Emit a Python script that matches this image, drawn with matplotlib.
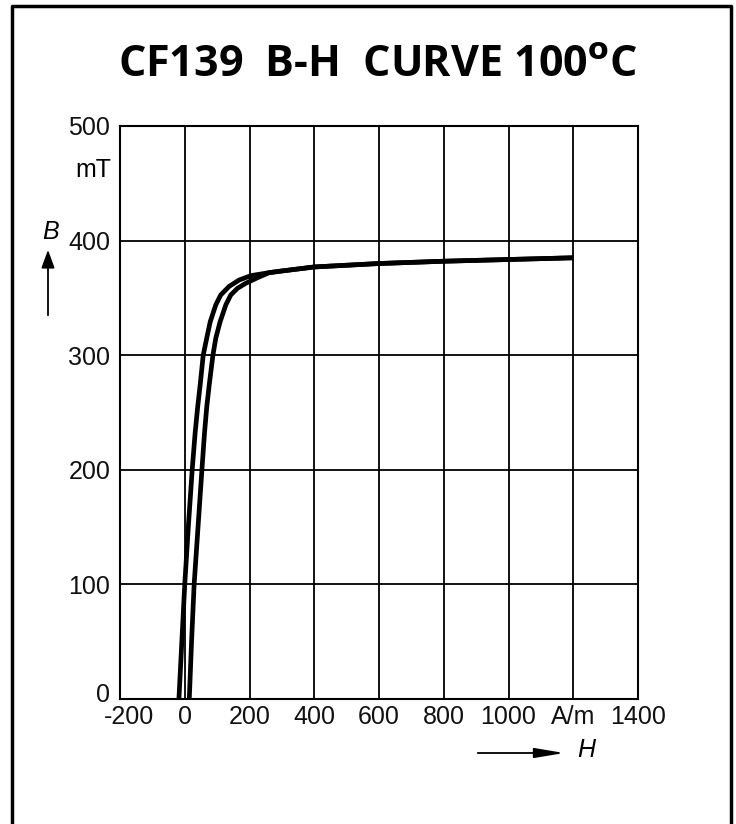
import matplotlib.pyplot as plt
from matplotlib.patches import FancyArrowPatch
from matplotlib.transforms import ScaledTranslation

# B-H data (H in A/m, B in mT)
# descending branch (left curve)
H_desc = [-18, -9, 0, 11, 23, 32, 40, 48, 57, 68, 78.5, 96, 111, 137, 168, 204, 260, 300, 400, 600, 800, 1000, 1200]
B_desc = [0, 50, 100, 150, 200, 232, 255, 275, 300, 315, 329, 344, 352.5, 360, 365.6, 369.4, 372, 373.5, 377, 380, 382, 383.5, 385]
# ascending branch (right curve)
H_asc = [14, 21, 29, 41, 53, 61, 68, 76, 87, 96, 109, 127, 142, 163, 188, 224, 260, 300, 400, 600, 800, 1000, 1200]
B_asc = [0, 50, 100, 150, 200, 232, 255, 275, 300, 315, 329, 344, 352.5, 358.4, 362.7, 367.5, 372, 373.5, 377, 380, 382, 383.5, 385]

x_ticks = [-200, 0, 200, 400, 600, 800, 1000, 1200, 1400]
x_labels = ['-200', '0', '200', '400', '600', '800', '1000', 'A/m', '1400']
y_ticks = [0, 100, 200, 300, 400, 500]

plt.rcParams['font.family'] = ['Liberation Sans', 'DejaVu Sans']

fig = plt.figure(figsize=(7.36, 8.24), dpi=100)
ax = fig.add_axes([120/736, 1-699/824, (638-120)/736, (699-126)/824])

ax.plot(H_desc, B_desc, color='black', lw=3.4, solid_capstyle='butt')
ax.plot(H_asc, B_asc, color='black', lw=3.4, solid_capstyle='butt')

ax.set_xlim(-200, 1400)
ax.set_ylim(0, 500)
ax.set_xticks(x_ticks)
ax.set_xticklabels(x_labels)
ax.set_yticks(y_ticks)
ax.grid(True, color='black', lw=1.3)
ax.set_axisbelow(True)
ax.tick_params(length=0, labelsize=18, colors='#111111')
ax.tick_params(axis='y', pad=7)
ax.tick_params(axis='x', pad=4)
for s in ax.spines.values():
    s.set_linewidth(1.5)

# in the original the "-200" sits a bit right and the "0" of B a bit up
ax.get_xticklabels()[0].set_transform(ax.get_xticklabels()[0].get_transform()
                                      + ScaledTranslation(9/100, 0, fig.dpi_scale_trans))
ax.get_yticklabels()[0].set_transform(ax.get_yticklabels()[0].get_transform()
                                      + ScaledTranslation(0, 6/100, fig.dpi_scale_trans))

# unit and axis symbols with arrows
fig.text(111/736, 1-170/824, 'mT', ha='right', va='center', fontsize=18)
fig.text(51/736, 1-232/824, 'B', ha='center', va='center', fontsize=18, style='italic')
fig.patches.append(FancyArrowPatch(
    (48/736, 1-318/824), (48/736, 1-247/824), transform=fig.transFigure,
    arrowstyle='-|>,head_length=11,head_width=4', color='black', lw=1.3))
fig.text(586/736, 1-750/824, 'H', ha='center', va='center', fontsize=18, style='italic')
fig.patches.append(FancyArrowPatch(
    (475/736, 1-753/824), (567/736, 1-753/824), transform=fig.transFigure,
    arrowstyle='-|>,head_length=18,head_width=3', color='black', lw=1.3))

fig.text(378/736, 1-65/824, 'CF139  B-H  CURVE 100$^{\\mathbf{o}}$C', ha='center', va='center',
         fontsize=31, fontweight='bold', family=['Open Sans', 'DejaVu Sans'])

# outer frame (no bottom edge)
fx = [12/736, 12/736, 731/736, 731/736]
fy = [0, 1-6/824, 1-6/824, 0]
fig.add_artist(plt.Line2D(fx, fy, color='black', lw=2.5, transform=fig.transFigure))

fig.savefig('out.png', dpi=100, facecolor='white')
